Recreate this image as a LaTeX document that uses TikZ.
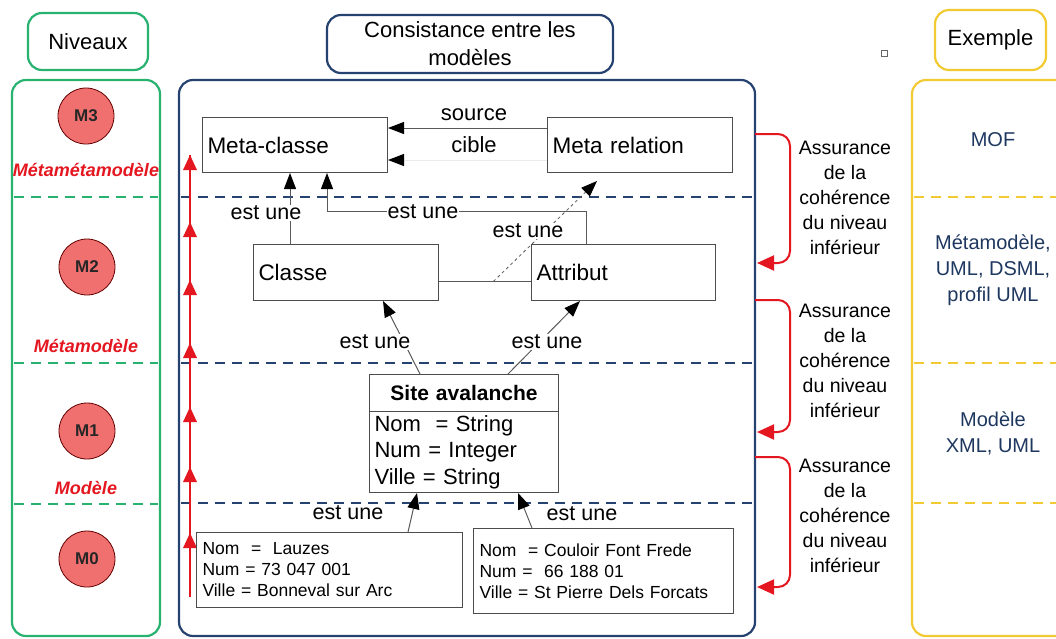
\documentclass[tikz,border=0pt]{standalone}
\usepackage{fontspec}
\setmainfont{Liberation Sans}
\usetikzlibrary{arrows.meta}
\definecolor{levelgreen}{RGB}{40,178,112}
\definecolor{modelblue}{RGB}{38,66,112}
\definecolor{exampleyellow}{RGB}{242,202,52}
\definecolor{levelred}{RGB}{228,22,32}
\definecolor{levelpink}{RGB}{240,112,112}
\definecolor{exampletext}{RGB}{30,55,95}

\begin{document}
\begin{tikzpicture}[x=1pt, y=-1pt,
  headbox/.style={draw, rounded corners=14pt, line width=2.2pt, align=center, font=\fontsize{22}{28}\selectfont},
  panel/.style={rounded corners=14pt, line width=2.2pt},
  levelsep/.style={dash pattern=on 10pt off 7pt, line width=2pt},
  level/.style={circle, draw=black!60!red, line width=0.8pt, fill=levelpink, minimum size=56pt, inner sep=0pt, font=\fontsize{17}{20}\selectfont\bfseries, text=black!85},
  levelname/.style={text=levelred, font=\fontsize{18}{22}\selectfont\bfseries\itshape},
  classbox/.style={draw=black!70, fill=white, line width=1pt, anchor=north west, align=left, inner xsep=5pt, font=\fontsize{22.5}{27}\selectfont},
  objbox/.style={draw=black!70, fill=white, line width=1pt, anchor=north west, align=left, inner xsep=6pt, font=\fontsize{17.5}{21}\selectfont},
  umlarrow/.style={draw=black!65, line width=1pt, -{Triangle[length=16pt, width=12pt, color=black]}},
  estune/.style={inner sep=1pt, font=\fontsize{21.5}{24}\selectfont},
  bracket/.style={draw=levelred, line width=2pt, rounded corners=12pt, -{Triangle[length=17pt, width=15pt]}},
  checktext/.style={align=center, font=\fontsize{19.5}{25}\selectfont},
  exampletxt/.style={align=center, text=exampletext, font=\fontsize{20}{26}\selectfont}]
\def\redtip{15}
\useasboundingbox (0,0) rectangle (1056,638);

% LEFT COLUMN
\node[headbox, draw=levelgreen, minimum width=120pt, minimum height=57pt] (niveaux) at (88,41.5) {Niveaux};
\draw[panel, draw=levelgreen] (12,80) rectangle (160,636);
\draw[levelsep, draw=levelgreen] (14,197) -- (158,197);
\draw[levelsep, draw=levelgreen] (14,363) -- (158,363);
\draw[levelsep, draw=levelgreen] (14,504) -- (158,504);

\node[level] (m3) at (86,116) {M3};
\node[levelname] (m3name) at (86,170) {Métamétamodèle};
\node[level] (m2) at (87,267) {M2};
\node[levelname] (m2name) at (86,346) {Métamodèle};
\node[level] (m1) at (87,431) {M1};
\node[levelname] (m1name) at (86,488) {Modèle};
\node[level] (m0) at (87,559) {M0};

% MIDDLE COLUMN
\node[headbox, draw=modelblue, minimum width=286pt, minimum height=58pt] (consistance) at (470,44) {Consistance entre les\\modèles};
\draw[panel, draw=modelblue] (179,80) rectangle (755,636);
\draw[levelsep, draw=modelblue] (181,197) -- (753,197);
\draw[levelsep, draw=modelblue] (181,363) -- (753,363);
\draw[levelsep, draw=modelblue] (181,503) -- (753,503);

% red upward line
\coordinate (redfoot) at (190,597);
\coordinate (redhead) at (190,155);
\draw[levelred, line width=2pt] (redfoot) -- (redhead);
\fill[levelred] (183,155+\redtip) -- (197,155+\redtip) -- (190,155) -- cycle;
\fill[levelred] (183,222+\redtip) -- (197,222+\redtip) -- (190,222) -- cycle;
\fill[levelred] (183,280+\redtip) -- (197,280+\redtip) -- (190,280) -- cycle;
\fill[levelred] (183,343+\redtip) -- (197,343+\redtip) -- (190,343) -- cycle;
\fill[levelred] (183,407+\redtip) -- (197,407+\redtip) -- (190,407) -- cycle;
\fill[levelred] (183,467+\redtip) -- (197,467+\redtip) -- (190,467) -- cycle;
\fill[levelred] (183,533+\redtip) -- (197,533+\redtip) -- (190,533) -- cycle;

% M3 boxes
\node[classbox, text width=175pt, minimum height=55pt] (metaclasse) at (202,117) {Meta-classe};
\node[classbox, text width=175pt, minimum height=55pt] (metarel) at (547,117) {Meta relation};
\draw[umlarrow] ([yshift=17pt]metarel.west) -- ([yshift=17pt]metaclasse.east);
\draw[umlarrow, draw=black!8] ([yshift=-15pt]metarel.west) -- ([yshift=-15pt]metaclasse.east);
\node[estune, font=\fontsize{22}{24}\selectfont] (source) at (474,115) {source};
\node[estune, font=\fontsize{22}{24}\selectfont] (cible) at (474,145) {cible};

% M2 boxes
\node[classbox, text width=175pt, minimum height=56pt] (classe) at (253,244) {Classe};
\node[classbox, text width=174pt, minimum height=56pt] (attribut) at (531,244) {Attribut};
\draw[draw=black!65, line width=1pt] ([yshift=-9pt]classe.east) -- coordinate[pos=0.59] (assoc) ([yshift=-9pt]attribut.west);
\draw[umlarrow, dashed, line width=0.8pt] (assoc) -- ([xshift=50pt, yshift=-8pt]metarel.south west);
\draw[umlarrow] ([xshift=37pt]classe.north west) -- ([xshift=88pt]metaclasse.south west);
\draw[umlarrow] ([xshift=55pt]attribut.north west) -- ++(0,-33) -| ([xshift=125pt]metaclasse.south west);
\node[estune, fill=white] (estclasse) at (266,213) {est une};
\node[estune, fill=white] (estattribut) at (423,212) {est une};
\node[estune, fill=white] (estassoc) at (528,231) {est une};

% M1 box
\node[classbox, text width=179pt, minimum height=37pt, align=center, font=\fontsize{21}{24}\selectfont\bfseries] (site) at (369,374) {Site avalanche};
\node[classbox, text width=179pt, minimum height=81pt, font=\fontsize{22}{26.5}\selectfont] (sitebody) at (369,411) {Nom\ \ = String\\Num = Integer\\Ville = String};
\draw[umlarrow] ([xshift=51pt]site.north west) -- ([xshift=130pt]classe.south west);
\draw[umlarrow] ([xshift=139pt]site.north west) -- ([xshift=49pt]attribut.south west);
\node[estune, fill=white] (estsiteclasse) at (375,342) {est une};
\node[estune, fill=white] (estsiteattribut) at (547,342) {est une};

% M0 boxes
\node[objbox, text width=254pt, minimum height=75pt] (lauzes) at (196,532) {Nom\ \ =\ \ Lauzes\\Num = 73 047 001\\Ville = Bonneval sur Arc};
\node[objbox, text width=248pt, minimum height=85pt] (couloir) at (473,528) {Nom\ \ = Couloir Font Frede\\Num =\ \ 66 188 01\\Ville = St Pierre Dels Forcats};
\draw[umlarrow] ([xshift=212pt]lauzes.north west) -- ([xshift=48pt]sitebody.south west);
\draw[umlarrow] ([xshift=59pt]couloir.north west) -- ([xshift=149pt]sitebody.south west);
\node[estune] (estlauzes) at (348,513) {est une};
\node[estune] (estcouloir) at (582,514) {est une};

% CHECKS BETWEEN LEVELS
\coordinate (check1top) at (755,134);
\coordinate (check1bot) at (757,263);
\coordinate (check2top) at (755,300);
\coordinate (check2bot) at (757,432);
\coordinate (check3top) at (755,457);
\coordinate (check3bot) at (757,587);
\draw[bracket] (check1top) -- (790,134) -- (790,263) -- (check1bot);
\draw[bracket] (check2top) -- (790,300) -- (790,432) -- (check2bot);
\draw[bracket] (check3top) -- (790,457) -- (790,587) -- (check3bot);
\node[checktext] (check1) at (845,198) {Assurance\\de la\\cohérence\\du niveau\\inférieur};
\node[checktext] (check2) at (845,361) {Assurance\\de la\\cohérence\\du niveau\\inférieur};
\node[checktext] (check3) at (845,516) {Assurance\\de la\\cohérence\\du niveau\\inférieur};
\draw[black!60, line width=0.8pt] (881,50) rectangle (887,56);

% RIGHT COLUMN
\node[headbox, draw=exampleyellow, minimum width=111pt, minimum height=60pt] (exemple) at (990.5,40) {Exemple};
\draw[panel, draw=exampleyellow] (912,80) rectangle (1080,636);
\draw[levelsep, draw=exampleyellow] (914,197) -- (1056,197);
\draw[levelsep, draw=exampleyellow] (914,363) -- (1056,363);
\draw[levelsep, draw=exampleyellow] (914,503) -- (1056,503);
\node[exampletxt] (mof) at (993,140) {MOF};
\node[exampletxt] (metamodeles) at (993,270) {Métamodèle,\\UML, DSML,\\profil UML};
\node[exampletxt] (modeles) at (993,433) {Modèle\\XML, UML};
\end{tikzpicture}
\end{document}
